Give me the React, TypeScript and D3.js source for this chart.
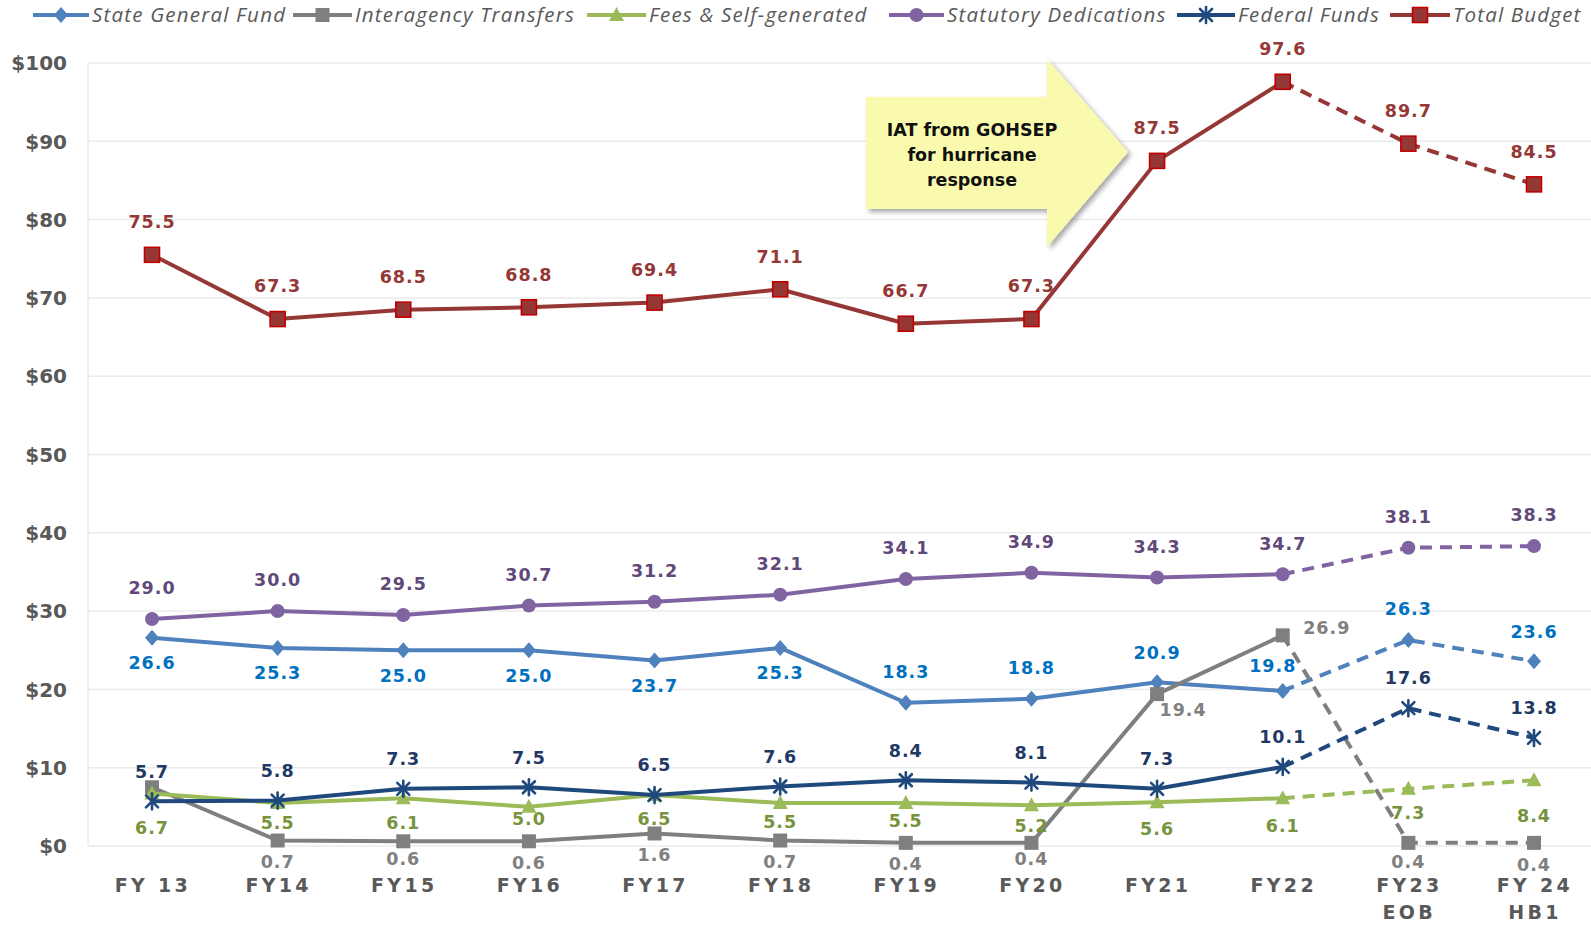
import React from "react";
import * as d3 from "d3";

const categories = ["FY 13", "FY14", "FY15", "FY16", "FY17", "FY18", "FY19", "FY20", "FY21", "FY22", "FY23", "FY 24"];
const categorySub = ["", "", "", "", "", "", "", "", "", "", "EOB", "HB1"];
const yTicks = [0, 10, 20, 30, 40, 50, 60, 70, 80, 90, 100];

const stateGeneralFund = [26.6, 25.3, 25.0, 25.0, 23.7, 25.3, 18.3, 18.8, 20.9, 19.8, 26.3, 23.6];
const interagencyTransfers = [7.5, 0.7, 0.6, 0.6, 1.6, 0.7, 0.4, 0.4, 19.4, 26.9, 0.4, 0.4];
const feesSelfGenerated = [6.7, 5.5, 6.1, 5.0, 6.5, 5.5, 5.5, 5.2, 5.6, 6.1, 7.3, 8.4];
const statutoryDedications = [29.0, 30.0, 29.5, 30.7, 31.2, 32.1, 34.1, 34.9, 34.3, 34.7, 38.1, 38.3];
const federalFunds = [5.7, 5.8, 7.3, 7.5, 6.5, 7.6, 8.4, 8.1, 7.3, 10.1, 17.6, 13.8];
const totalBudget = [75.5, 67.3, 68.5, 68.8, 69.4, 71.1, 66.7, 67.3, 87.5, 97.6, 89.7, 84.5];

const annotationLines = ["IAT from GOHSEP", "for hurricane", "response"];

type Marker = "diamond" | "square" | "triangle" | "circle" | "star" | "bigsquare";

interface Series {
  name: string;
  values: number[];
  color: string;
  labelColor: string;
  marker: Marker;
  labelDx: number;
  labelDy: number;
  showLabel: (i: number) => boolean;
  overrides: Record<number, [number, number]>;
  legendX: number;
  textX: number;
}

const series: Series[] = [
  {
    name: "State General Fund", values: stateGeneralFund, color: "#4F81BD", labelColor: "#0070C0", marker: "diamond",
    labelDx: 0, labelDy: 25, showLabel: () => true,
    overrides: { 6: [0, -31], 7: [0, -31], 8: [0, -30], 9: [-10, -25], 10: [0, -31], 11: [0, -30] },
    legendX: 33, textX: 92,
  },
  {
    name: "Interagency Transfers", values: interagencyTransfers, color: "#7F7F7F", labelColor: "#808080", marker: "square",
    labelDx: 0, labelDy: 21, showLabel: (i) => i !== 0,
    overrides: { 2: [0, 17], 7: [0, 16], 8: [26, 16], 9: [44, -8], 10: [0, 19], 11: [0, 22] },
    legendX: 293, textX: 355,
  },
  {
    name: "Fees & Self-generated", values: feesSelfGenerated, color: "#9BBB59", labelColor: "#77933C", marker: "triangle",
    labelDx: 0, labelDy: 24, showLabel: () => true,
    overrides: { 0: [0, 34], 1: [0, 20], 3: [0, 12], 5: [0, 19], 6: [0, 18], 7: [0, 20], 8: [0, 27], 9: [0, 27], 11: [0, 35] },
    legendX: 587, textX: 649,
  },
  {
    name: "Statutory Dedications", values: statutoryDedications, color: "#8064A2", labelColor: "#60497A", marker: "circle",
    labelDx: 0, labelDy: -31, showLabel: () => true, overrides: {},
    legendX: 889, textX: 947,
  },
  {
    name: "Federal Funds", values: federalFunds, color: "#1F497D", labelColor: "#1F3864", marker: "star",
    labelDx: 0, labelDy: -30, showLabel: () => true, overrides: {},
    legendX: 1177, textX: 1238,
  },
  {
    name: "Total Budget", values: totalBudget, color: "#953735", labelColor: "#953735", marker: "bigsquare",
    labelDx: 0, labelDy: -33, showLabel: () => true, overrides: {},
    legendX: 1390, textX: 1453,
  },
];

const W = 1591;
const H = 925;
const x = d3.scalePoint<string>().domain(categories).range([152, 1534]);
const y = d3.scaleLinear().domain([0, 100]).range([846, 63]);
const SOLID_UNTIL = 9; // index of FY22 - last solid point

function MarkerShape({ m, cx, cy, color }: { m: Marker; cx: number; cy: number; color: string }) {
  switch (m) {
    case "diamond":
      return <path d={`M${cx},${cy - 8}L${cx + 7},${cy}L${cx},${cy + 8}L${cx - 7},${cy}Z`} fill={color} />;
    case "square":
      return <rect x={cx - 7} y={cy - 7} width={14} height={14} fill={color} />;
    case "triangle":
      return <path d={`M${cx},${cy - 8}L${cx + 7.5},${cy + 6}L${cx - 7.5},${cy + 6}Z`} fill={color} />;
    case "circle":
      return <circle cx={cx} cy={cy} r={7} fill={color} />;
    case "star":
      return (
        <g stroke={color} strokeWidth={2.6} strokeLinecap="round">
          <line x1={cx - 6} y1={cy - 6} x2={cx + 6} y2={cy + 6} />
          <line x1={cx - 6} y1={cy + 6} x2={cx + 6} y2={cy - 6} />
          <line x1={cx} y1={cy - 8} x2={cx} y2={cy + 8} />
        </g>
      );
    case "bigsquare":
      return <rect x={cx - 7.5} y={cy - 7.5} width={15} height={15} fill={color} stroke="#C00000" strokeWidth={1.6} />;
  }
}

export default function App() {
  const line = d3.line<[number, number]>().x((d) => d[0]).y((d) => d[1]);
  const font = "'DejaVu Sans', Verdana, sans-serif";

  return (
    <svg width={W} height={H} style={{ display: "block", position: "absolute", left: 0, top: 0, background: "#fff" }}>
      <defs>
        <filter id="shadow" x="-20%" y="-20%" width="140%" height="140%">
          <feDropShadow dx="3" dy="3" stdDeviation="2.5" floodColor="#000" floodOpacity="0.35" />
        </filter>
      </defs>

      {/* gridlines */}
      {yTicks.map((t) => (
        <line key={t} x1={88} x2={W} y1={y(t)} y2={y(t)} stroke="#EBEBEB" strokeWidth={1.5} />
      ))}
      <line x1={88} x2={88} y1={y(100)} y2={y(0)} stroke="#EBEBEB" strokeWidth={1.5} />

      {/* y ticks */}
      {yTicks.map((t) => (
        <text key={t} x={67} y={y(t)} dy="0.36em" textAnchor="end" fontFamily={font} fontWeight="bold" fontSize={20} fill="#595959">
          ${t}
        </text>
      ))}

      {/* x labels */}
      {categories.map((c, i) => (
        <g key={c}>
          <text x={(x(c) as number) + 1} y={885} dy="0.36em" textAnchor="middle" fontFamily={font} fontWeight="bold" fontSize={19} letterSpacing={3.3} fill="#595959">
            {c}
          </text>
          {categorySub[i] && (
            <text x={(x(c) as number) + 1} y={912} dy="0.36em" textAnchor="middle" fontFamily={font} fontWeight="bold" fontSize={19} letterSpacing={3.3} fill="#595959">
              {categorySub[i]}
            </text>
          )}
        </g>
      ))}

      {/* annotation arrow */}
      <path
        d="M866,97 L1047,97 L1047,59 L1128,152 L1047,247 L1047,209 L866,209 Z"
        fill="#FAFAAE"
        filter="url(#shadow)"
      />
      {annotationLines.map((t, i) => (
        <text key={t} x={972} y={130 + i * 25} dy="0.36em" textAnchor="middle" fontFamily={font} fontWeight="bold" fontSize={17.5} fill="#111">
          {t}
        </text>
      ))}

      {/* series */}
      {series.map((s) => {
        const pts: [number, number][] = s.values.map((v, i) => [x(categories[i]) as number, y(v)]);
        const solid = pts.slice(0, SOLID_UNTIL + 1);
        const dashed = pts.slice(SOLID_UNTIL);
        return (
          <g key={s.name}>
            <path d={line(solid) || ""} fill="none" stroke={s.color} strokeWidth={4} strokeLinejoin="round" />
            <path d={line(dashed) || ""} fill="none" stroke={s.color} strokeWidth={4} strokeDasharray="12 8" />
            {pts.map((p, i) => (
              <MarkerShape key={i} m={s.marker} cx={p[0]} cy={p[1]} color={s.color} />
            ))}
          </g>
        );
      })}

      {/* data labels */}
      {series.map((s) => (
        <g key={s.name + "-labels"}>
          {s.values.map((v, i) => {
            if (!s.showLabel(i)) return null;
            const [dx, dy] = s.overrides[i] ?? [s.labelDx, s.labelDy];
            return (
              <text
                key={i}
                x={(x(categories[i]) as number) + dx}
                y={y(v) + dy}
                dy="0.36em"
                textAnchor="middle"
                fontFamily={font}
                fontWeight="bold"
                fontSize={17.5}
                letterSpacing={1}
                fill={s.labelColor}
              >
                {v.toFixed(1)}
              </text>
            );
          })}
        </g>
      ))}

      {/* legend */}
      {series.map((s) => (
        <g key={s.name + "-legend"}>
          <line x1={s.legendX} x2={s.textX - 3} y1={15} y2={15} stroke={s.color} strokeWidth={4} />
          <MarkerShape m={s.marker} cx={(s.legendX + s.textX - 3) / 2} cy={15} color={s.color} />
          <text x={s.textX} y={15} dy="0.36em" fontFamily="'Open Sans', sans-serif" fontStyle="italic" fontWeight={500} fontSize={20.5} letterSpacing={1.2} fill="#595959">
            {s.name}
          </text>
        </g>
      ))}
    </svg>
  );
}
